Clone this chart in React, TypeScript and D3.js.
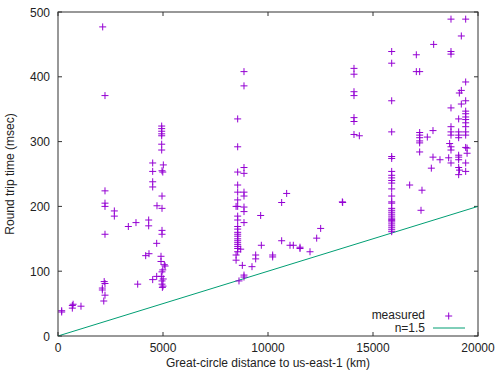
import React from "react";
import * as d3 from "d3";

// Measured round trip times: [distance km, rtt msec]
const nearOrigin: [number, number][] = [
  [175, 37], [175, 39], [683, 47], [683, 43], [720, 49], [1095, 46],
];
const cluster2200: [number, number][] = [
  [2128, 477], [2238, 371], [2238, 224], [2238, 205], [2238, 200], [2238, 157],
  [2238, 81], [2200, 84], [2111, 74], [2111, 71], [2238, 63], [2180, 54],
  [2683, 193], [2683, 185],
];
const cluster4000: [number, number][] = [
  [3349, 169], [3714, 175], [3795, 80], [4176, 124], [4333, 127], [4318, 179],
  [4318, 170], [4509, 267], [4509, 254], [4509, 238], [4509, 230], [4700, 143],
  [4714, 201], [4700, 92], [4509, 87],
];
const cluster5000: [number, number][] = [
  [4938, 324], [4938, 320], [4938, 316], [4938, 312], [4938, 309], [4938, 296],
  [4938, 287], [5016, 264], [4953, 255], [4990, 253], [4953, 216], [4953, 197],
  [4953, 163], [4953, 157], [4905, 123], [4905, 115], [5062, 110], [5100, 108],
  [4990, 102], [4953, 99], [4920, 92], [5010, 88], [4953, 85], [4953, 80],
  [5000, 77], [4970, 75],
];
const cluster8500: [number, number][] = [
  [8857, 408], [8857, 386], [8857, 260], [8857, 251], [8857, 222], [8857, 216],
  [8857, 199], [8857, 192], [8857, 175], [8778, 109], [8857, 94], [8857, 91],
  [8556, 335], [8556, 292], [8556, 253], [8556, 233], [8556, 222], [8556, 210],
  [8556, 200], [8480, 200], [8556, 185], [8556, 179], [8556, 169], [8556, 165],
  [8556, 160], [8556, 157], [8556, 154], [8556, 150], [8556, 147], [8556, 144],
  [8556, 141], [8556, 138], [8556, 135], [8700, 134], [8556, 130], [8480, 125],
  [8480, 117], [8619, 85],
];
const cluster9000to13600: [number, number][] = [
  [9413, 125], [9413, 119], [9651, 186], [9683, 140], [9238, 107], [10222, 125],
  [10222, 122], [10651, 206], [10651, 147], [10889, 220], [11048, 140],
  [11206, 140], [11524, 137], [11524, 135], [12000, 130], [12318, 151],
  [12508, 166], [13540, 207], [13556, 206],
];
const cluster14100: [number, number][] = [
  [14095, 413], [14095, 404], [14095, 377], [14095, 371], [14095, 337],
  [14095, 331], [14095, 311], [14349, 309],
];
const cluster15900: [number, number][] = [
  [15890, 439], [15890, 421], [15890, 363], [15890, 315], [15890, 277],
  [15890, 274], [15890, 254], [15890, 248], [15890, 244], [15890, 240],
  [15890, 236], [15890, 227], [15890, 216], [15890, 207], [15890, 205],
  [15890, 197], [15890, 194], [15890, 191], [15890, 188], [15890, 185],
  [15890, 182], [15890, 180], [15890, 178], [15890, 176], [15890, 173],
  [15890, 170], [15890, 167], [15890, 164], [15890, 161],
];
const cluster17000to20000: [number, number][] = [
  [16746, 233], [17063, 434], [17063, 408], [17222, 408], [17222, 314],
  [17222, 310], [17222, 306], [17222, 301], [17222, 298], [17222, 284],
  [17333, 225], [17286, 194], [17587, 307], [17857, 317], [17889, 450],
  [17857, 276], [17778, 259], [18190, 272], [18603, 275], [18714, 489],
  [18714, 439], [18714, 435], [18714, 352], [18714, 323], [18714, 315],
  [18714, 310], [18650, 297], [18714, 292], [18714, 287], [18714, 267],
  [19079, 335], [19111, 375], [19206, 379], [19206, 463], [19206, 358],
  [19413, 489], [19413, 392], [19413, 363], [19413, 347], [19413, 343],
  [19413, 338], [19413, 334], [19413, 329], [19413, 323], [19413, 315],
  [19413, 310], [19413, 291], [19480, 290], [19480, 282], [19413, 267],
  [19413, 254], [19079, 315], [19079, 310], [19079, 306], [19079, 279],
  [19079, 276], [19079, 272], [19079, 260], [19120, 256], [19079, 249],
];

// Model line: n = 1.5 -> rtt(ms) = distance(km) * 0.01
const modelLine: [number, number][] = [
  [0, 0], [20000, 200],
];

const xTicks = [0, 5000, 10000, 15000, 20000];
const yTicks = [0, 100, 200, 300, 400, 500];
const xLabel = "Great-circle distance to us-east-1 (km)";
const yLabel = "Round trip time (msec)";
const legendLabels = ["measured", "n=1.5"];

const measured = [
  ...nearOrigin, ...cluster2200, ...cluster4000, ...cluster5000, ...cluster8500,
  ...cluster9000to13600, ...cluster14100, ...cluster15900, ...cluster17000to20000,
];

const W = 500, H = 375;
const L = 58, R = 478, T = 12, B = 336;
const PURPLE = "#9400d3";
const TEAL = "#009e73";
const FONT = "'Liberation Sans', Arial, sans-serif";

export default function App() {
  const x = d3.scaleLinear().domain([0, 20000]).range([L, R]);
  const y = d3.scaleLinear().domain([0, 500]).range([B, T]);
  const line = d3.line<[number, number]>().x(d => x(d[0])).y(d => y(d[1]));
  const tl = 4;
  const plus = (cx: number, cy: number, k: string | number) => (
    <path key={k} d={`M${cx - 3.5},${cy}H${cx + 3.5}M${cx},${cy - 3.5}V${cy + 3.5}`}
      stroke={PURPLE} strokeWidth={1} fill="none" />
  );
  return (
    <svg width={W} height={H} style={{ position: "absolute", left: 0, top: 0, background: "#fff" }}
      fontFamily={FONT} fontSize={12}>
      <rect x={0} y={0} width={W} height={H} fill="#fff" />
      <defs>
        <clipPath id="plotclip"><rect x={L} y={T} width={R - L} height={B - T} /></clipPath>
      </defs>
      {xTicks.map(t => (
        <g key={"xt" + t}>
          <line x1={x(t)} x2={x(t)} y1={B} y2={B - tl} stroke="#333" />
          <line x1={x(t)} x2={x(t)} y1={T} y2={T + tl} stroke="#333" />
          <text x={x(t)} y={352} textAnchor="middle" fill="#222">{t}</text>
        </g>
      ))}
      {yTicks.map(t => (
        <g key={"yt" + t}>
          <line x1={L} x2={L + tl} y1={y(t)} y2={y(t)} stroke="#333" />
          <line x1={R} x2={R - tl} y1={y(t)} y2={y(t)} stroke="#333" />
          <text x={50} y={y(t) + 4.5} textAnchor="end" fill="#222">{t}</text>
        </g>
      ))}
      <g clipPath="url(#plotclip)">
        <path d={line(modelLine) || ""} stroke={TEAL} strokeWidth={1} fill="none" />
        {measured.map((d, i) => plus(x(d[0]), y(d[1]), i))}
      </g>
      <rect x={L} y={T} width={R - L} height={B - T} fill="none" stroke="#333" strokeWidth={1} />
      <text x={425} y={318.5} textAnchor="end" fill="#222">{legendLabels[0]}</text>
      {plus(448.7, 316, "leg")}
      <text x={425} y={331.5} textAnchor="end" fill="#222">{legendLabels[1]}</text>
      <line x1={433} x2={465} y1={328} y2={328} stroke={TEAL} strokeWidth={1} />
      <text x={268} y={367} textAnchor="middle" fill="#222">{xLabel}</text>
      <text transform={`translate(14,174) rotate(-90)`} textAnchor="middle" fill="#222">{yLabel}</text>
    </svg>
  );
}
